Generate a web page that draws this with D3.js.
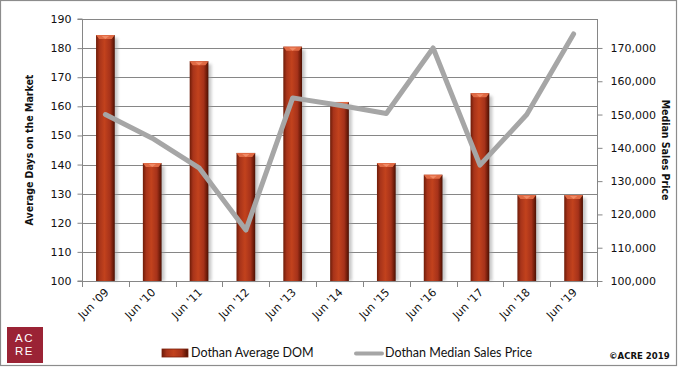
<!DOCTYPE html>
<html><head><meta charset="utf-8">
<script src="https://cdn.jsdelivr.net/npm/d3@7"></script>
<style>body{margin:0;background:#fff}svg{display:block}</style>
</head><body>
<script>
const categories = ["Jun '09","Jun '10","Jun '11","Jun '12","Jun '13","Jun '14","Jun '15","Jun '16","Jun '17","Jun '18","Jun '19"];
const avgDOM = [184.5,140.5,175.5,144,180.5,161.5,140.5,136.5,164.5,129.5,129.5];
const medianPrice = [150000,142900,134000,115300,155000,152800,150300,170000,134800,150000,174200];
const leftTicks = [100,110,120,130,140,150,160,170,180,190];
const rightTicks = [100000,110000,120000,130000,140000,150000,160000,170000];

const W=678,H=368;
const m={l:82,r:597,t:19,b:281};
const svg=d3.select("body").append("svg").attr("width",W).attr("height",H);
const defs=svg.append("defs");
const g1=defs.append("linearGradient").attr("id","barG").attr("x1","0").attr("x2","1").attr("y1","0").attr("y2","0");
[[0,"#6e1c08"],[0.18,"#a8341a"],[0.45,"#c2421d"],[0.75,"#a6321a"],[0.92,"#6a1a08"],[1,"#4a1004"]].forEach(([o,c])=>g1.append("stop").attr("offset",o).attr("stop-color",c));
const f=defs.append("filter").attr("id","sh").attr("x","-50%").attr("width","200%");
f.append("feGaussianBlur").attr("stdDeviation",1.5);

svg.append("rect").attr("x",0.5).attr("y",0.5).attr("width",676).attr("height",365).attr("fill","#fff").attr("stroke","#8c8c8c").attr("stroke-width",1.2);

const x=d3.scaleBand().domain(categories).range([m.l,m.r]).paddingInner(0.6).paddingOuter(0.3);
const xc=d3.scaleBand().domain(categories).range([m.l,m.r]);
const yL=d3.scaleLinear().domain([100,190]).range([m.b,m.t]);
const yR=d3.scaleLinear().domain([100000,178700]).range([m.b,m.t]);

// gridlines
svg.append("g").selectAll("line").data(leftTicks).join("line")
  .attr("x1",m.l).attr("x2",m.r).attr("y1",d=>Math.round(yL(d))+0.5).attr("y2",d=>Math.round(yL(d))+0.5)
  .attr("stroke","#868686").attr("stroke-width",1);

// bars
const bw=x.bandwidth();
const bars=svg.append("g");
bars.selectAll("rect.sh").data(avgDOM).join("rect").attr("class","sh")
  .attr("x",(d,i)=>x(categories[i])+3).attr("y",d=>yL(d)+3).attr("width",bw).attr("height",d=>m.b-yL(d)-3)
  .attr("fill","#999").attr("opacity",0.55).attr("filter","url(#sh)");
bars.selectAll("rect.b").data(avgDOM).join("rect").attr("class","b")
  .attr("x",(d,i)=>x(categories[i])).attr("y",d=>yL(d)).attr("width",bw).attr("height",d=>m.b-yL(d))
  .attr("fill","url(#barG)");
bars.selectAll("path.bev").data(avgDOM).join("path").attr("class","bev")
  .attr("d",(d,i)=>{const x0=x(categories[i]),y0=yL(d);return `M${x0},${y0}L${x0+bw},${y0}L${x0+bw-3},${y0+4}L${x0+3},${y0+4}Z`;})
  .attr("fill","#e06a44");
bars.selectAll("path.bev2").data(avgDOM).join("path").attr("class","bev2")
  .attr("d",(d,i)=>{const x0=x(categories[i]),y0=yL(d);return `M${x0+bw*0.3},${y0+1}L${x0+bw*0.7},${y0+1}L${x0+bw*0.5},${y0+4}Z`;})
  .attr("fill","#f08a66");

// left axis
const axL=svg.append("g").attr("transform",`translate(${m.l+0.5},0)`)
  .call(d3.axisLeft(yL).tickValues(leftTicks).tickSize(5).tickPadding(6));
axL.select(".domain").attr("stroke","#868686").attr("d",`M-5,${m.t}H0V${m.b}H-5`);
axL.selectAll(".tick line").attr("stroke","#868686");
axL.selectAll("text").attr("font-family","DejaVu Sans, Verdana, sans-serif").attr("font-size",11).attr("fill","#111");

// right axis
const axR=svg.append("g").attr("transform",`translate(${m.r+0.5},0)`)
  .call(d3.axisRight(yR).tickValues(rightTicks).tickFormat(d3.format(",")).tickSize(5).tickPadding(8));
axR.select(".domain").attr("stroke","#868686").attr("d",`M0,${m.t}V${m.b}`);
axR.selectAll(".tick line").attr("stroke","#868686");
axR.selectAll("text").attr("font-family","DejaVu Sans, Verdana, sans-serif").attr("font-size",11).attr("fill","#111");

// x axis
svg.append("line").attr("x1",m.l).attr("x2",m.r).attr("y1",m.b+0.5).attr("y2",m.b+0.5).attr("stroke","#868686");
const bounds=categories.map(c=>xc(c)).concat([m.r]);
svg.append("g").selectAll("line").data(bounds).join("line")
  .attr("x1",d=>Math.round(d)+0.5).attr("x2",d=>Math.round(d)+0.5).attr("y1",m.b).attr("y2",m.b+6).attr("stroke","#868686");
svg.append("g").selectAll("text").data(categories).join("text")
  .attr("transform",c=>`translate(${xc(c)+xc.bandwidth()/2+4},${m.b+12}) rotate(-45)`)
  .attr("text-anchor","end").attr("font-family","DejaVu Sans, Verdana, sans-serif").attr("font-size",11).attr("fill","#111")
  .text(c=>c);

// line
const line=d3.line().x((d,i)=>xc(categories[i])+xc.bandwidth()/2).y(d=>yR(d));
svg.append("path").datum(medianPrice).attr("d",line).attr("fill","none").attr("stroke","#a6a6a6")
  .attr("stroke-width",5).attr("stroke-linejoin","round").attr("stroke-linecap","round");

// axis titles
svg.append("text").attr("transform",`translate(33,150) rotate(-90)`).attr("text-anchor","middle")
  .attr("font-family","DejaVu Sans Condensed, DejaVu Sans, sans-serif").attr("font-weight","bold").attr("font-size",10.5).attr("fill","#111")
  .text("Average Days on the Market");
svg.append("text").attr("transform",`translate(662,150) rotate(90)`).attr("text-anchor","middle")
  .attr("font-family","DejaVu Sans Condensed, DejaVu Sans, sans-serif").attr("font-weight","bold").attr("font-size",10.5).attr("fill","#111")
  .text("Median Sales Price");

// legend
svg.append("rect").attr("x",162).attr("y",349).attr("width",26).attr("height",8).attr("fill","url(#barG)").attr("stroke","#7a200c").attr("stroke-width",0.8);
svg.append("text").attr("x",191).attr("y",357).attr("font-family","Lato, Open Sans, sans-serif").attr("font-size",12.5).attr("fill","#111").text("Dothan Average DOM");
svg.append("line").attr("x1",356).attr("x2",382).attr("y1",353.5).attr("y2",353.5).attr("stroke","#a6a6a6").attr("stroke-width",4).attr("stroke-linecap","round");
svg.append("text").attr("x",385).attr("y",357).attr("font-family","Lato, Open Sans, sans-serif").attr("font-size",12.5).attr("fill","#111").text("Dothan Median Sales Price");
svg.append("text").attr("x",609).attr("y",359).attr("font-family","DejaVu Sans Condensed, DejaVu Sans, sans-serif").attr("font-weight","bold").attr("font-size",9.5).attr("fill","#111").text("©ACRE 2019");

// logo
svg.append("rect").attr("x",7).attr("y",327).attr("width",36).attr("height",36).attr("fill","#9b2335");
const logo=svg.append("g").attr("font-family","Liberation Sans, Arial, sans-serif").attr("font-size",11.5).attr("letter-spacing",1.5).attr("fill","#fff");
logo.append("text").attr("x",15).attr("y",341.5).text("AC");
logo.append("text").attr("x",15).attr("y",354.5).text("RE");
</script>
</body></html>
